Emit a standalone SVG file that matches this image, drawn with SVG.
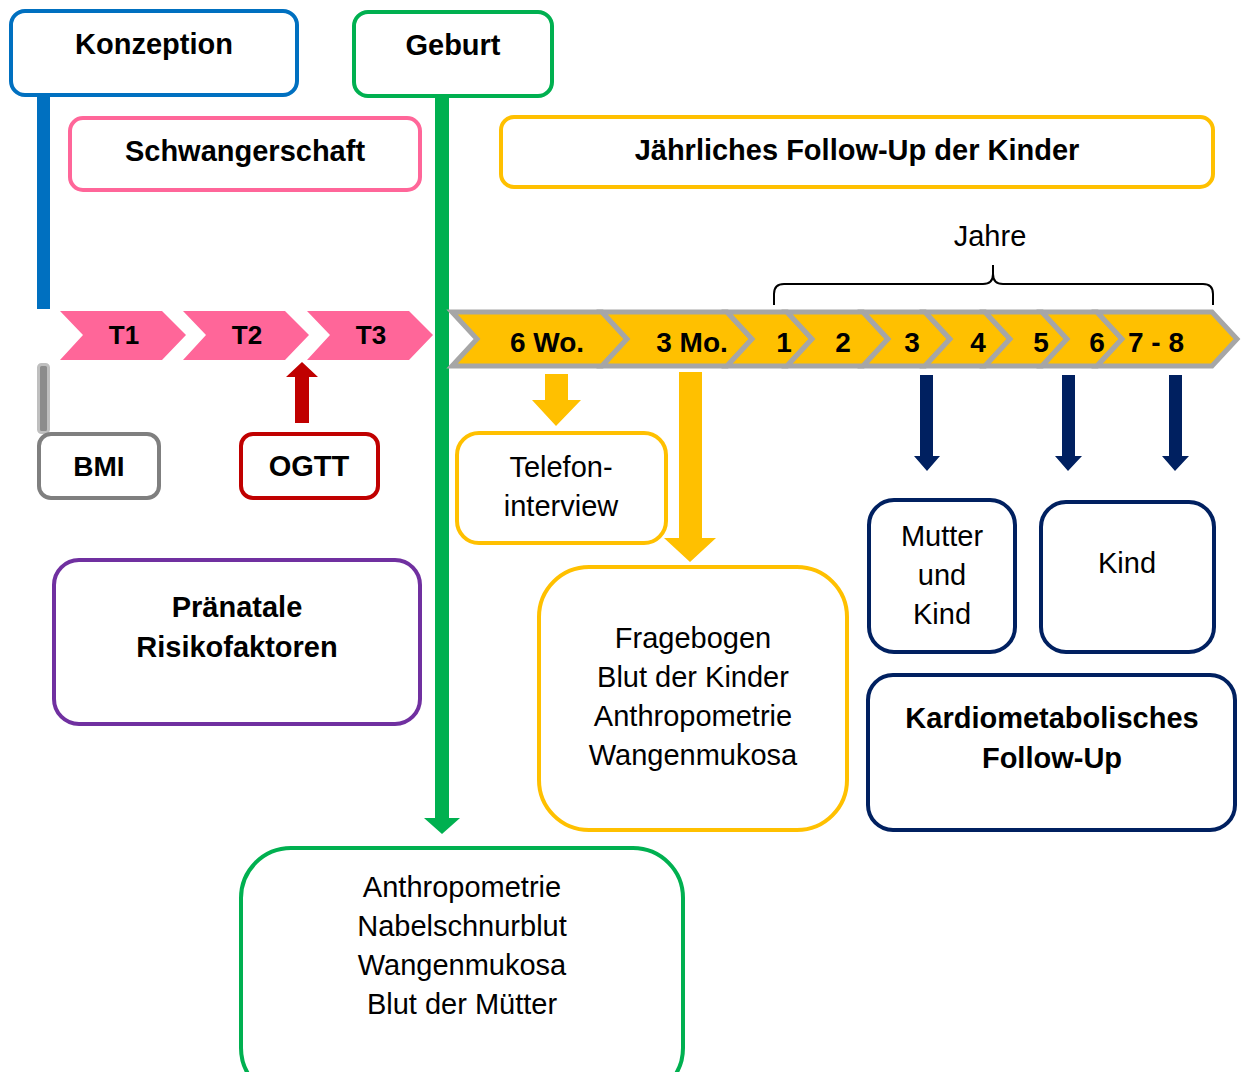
<svg xmlns="http://www.w3.org/2000/svg" width="1243" height="1072" viewBox="0 0 1243 1072">
<style>
text{font-family:"Liberation Sans",Arial,sans-serif;font-size:29px;fill:#000;text-anchor:middle}
.b{font-weight:bold}
.box{fill:#fff;stroke-width:4}
.pink{fill:#FF6699}
.yel{fill:#FFC000;stroke:#A6A6A6;stroke-width:5;stroke-linejoin:miter}
</style>
<rect width="1243" height="1072" fill="#fff"/>
<g id="connectors">
  <rect x="37" y="96" width="13" height="213" fill="#0070C0"/>
  <rect x="38.5" y="364.5" width="10" height="68" rx="3" fill="#8C8C8C" stroke="#BFBFBF" stroke-width="3"/>
  <path d="M435,97 H449 V818 H460 L442,834 L424,818 H435 Z" fill="#00B050"/>
  <path d="M295,423 V377 H286 L302,362 L318,377 H309 V423 Z" fill="#C00000"/>
  <path d="M545,374 H568 V400 H581 L556,426 L532,400 H545 Z" fill="#FFC000"/>
  <path d="M679,372 H702 V538 H716 L690,562 L664,538 H679 Z" fill="#FFC000"/>
  <path d="M920,375 H933 V456 H940 L927,471 L914,456 H920 Z" fill="#002060"/>
  <path d="M1062,375 H1075 V456 H1082 L1068,471 L1055,456 H1062 Z" fill="#002060"/>
  <path d="M1169,375 H1182 V456 H1189 L1175,471 L1162,456 H1169 Z" fill="#002060"/>
  <path d="M774,305 V294 Q774,284 784,284 H983 Q993,284 993,274 V265 V274 Q993,284 1003,284 H1203 Q1213,284 1213,294 V305" fill="none" stroke="#000" stroke-width="2"/>
</g>
<g id="n-konzeption"><rect class="box" x="11" y="11" width="286" height="84" rx="14" stroke="#0070C0"/><text class="b" x="154" y="54">Konzeption</text></g>
<g id="n-geburt"><rect class="box" x="354" y="12" width="198" height="84" rx="14" stroke="#00B050"/><text class="b" x="453" y="55">Geburt</text></g>
<g id="n-schwangerschaft"><rect class="box" x="70" y="118" width="350" height="72" rx="13" stroke="#FF6699"/><text class="b" x="245" y="161">Schwangerschaft</text></g>
<g id="n-follow"><rect class="box" x="501" y="117" width="712" height="70" rx="13" stroke="#FFC000"/><text class="b" x="857" y="160">Jährliches Follow-Up der Kinder</text></g>
<g id="n-trimester">
  <path class="pink" d="M60,311 H162 L186,335 L162,360 H60 L83,335 Z"/>
  <path class="pink" d="M183,311 H285 L309,335 L285,360 H183 L206,335 Z"/>
  <path class="pink" d="M307,311 H409 L433,335 L409,360 H307 L330,335 Z"/>
  <text class="b" x="124" y="344" style="font-size:26px">T1</text>
  <text class="b" x="247" y="344" style="font-size:26px">T2</text>
  <text class="b" x="371" y="344" style="font-size:26px">T3</text>
</g>
<g id="n-timeline">
  <path class="yel" d="M452,312 H602 L627,339 L602,366 H452 L477,339 Z"/>
  <path class="yel" d="M602,312 H727 L752,339 L727,366 H602 L627,339 Z"/>
  <path class="yel" d="M727,312 H787 L812,339 L787,366 H727 L752,339 Z"/>
  <path class="yel" d="M787,312 H863 L888,339 L863,366 H787 L812,339 Z"/>
  <path class="yel" d="M863,312 H925 L950,339 L925,366 H863 L888,339 Z"/>
  <path class="yel" d="M925,312 H985 L1010,339 L985,366 H925 L950,339 Z"/>
  <path class="yel" d="M985,312 H1042 L1067,339 L1042,366 H985 L1010,339 Z"/>
  <path class="yel" d="M1042,312 H1097 L1122,339 L1097,366 H1042 L1067,339 Z"/>
  <path class="yel" d="M1097,312 H1212 L1237,339 L1212,366 H1097 L1122,339 Z"/>
  <text class="b" x="547" y="352" style="font-size:28px">6 Wo.</text>
  <text class="b" x="692" y="352" style="font-size:28px">3 Mo.</text>
  <text class="b" x="784" y="352" style="font-size:28px">1</text>
  <text class="b" x="843" y="352" style="font-size:28px">2</text>
  <text class="b" x="912" y="352" style="font-size:28px">3</text>
  <text class="b" x="978" y="352" style="font-size:28px">4</text>
  <text class="b" x="1041" y="352" style="font-size:28px">5</text>
  <text class="b" x="1097" y="352" style="font-size:28px">6</text>
  <text class="b" x="1156" y="352" style="font-size:28px">7 - 8</text>
</g>
<g id="n-jahre"><text x="990" y="246">Jahre</text></g>
<g id="n-bmi"><rect class="box" x="39" y="434" width="120" height="64" rx="12" stroke="#7F7F7F"/><text class="b" x="99" y="476" style="font-size:28px">BMI</text></g>
<g id="n-ogtt"><rect class="box" x="241" y="434" width="137" height="64" rx="12" stroke="#C00000"/><text class="b" x="309" y="476">OGTT</text></g>
<g id="n-telefon"><rect class="box" x="457" y="433" width="209" height="110" rx="22" stroke="#FFC000"/><text x="561" y="477">Telefon-</text><text x="561" y="516">interview</text></g>
<g id="n-fragebogen"><rect class="box" x="539" y="567" width="308" height="263" rx="50" stroke="#FFC000"/><text x="693" y="648">Fragebogen</text><text x="693" y="687">Blut der Kinder</text><text x="693" y="726">Anthropometrie</text><text x="693" y="765">Wangenmukosa</text></g>
<g id="n-mutter"><rect class="box" x="869" y="500" width="146" height="152" rx="25" stroke="#002060"/><text x="942" y="546">Mutter</text><text x="942" y="585">und</text><text x="942" y="624">Kind</text></g>
<g id="n-kind"><rect class="box" x="1041" y="502" width="173" height="150" rx="25" stroke="#002060"/><text x="1127" y="573">Kind</text></g>
<g id="n-kardio"><rect class="box" x="868" y="675" width="367" height="155" rx="25" stroke="#002060"/><text class="b" x="1052" y="728">Kardiometabolisches</text><text class="b" x="1052" y="768">Follow-Up</text></g>
<g id="n-praenatal"><rect class="box" x="54" y="560" width="366" height="164" rx="25" stroke="#7030A0"/><text class="b" x="237" y="617">Pränatale</text><text class="b" x="237" y="657">Risikofaktoren</text></g>
<g id="n-geburt-data"><rect class="box" x="241" y="848" width="442" height="250" rx="50" stroke="#00B050"/><text x="462" y="897">Anthropometrie</text><text x="462" y="936">Nabelschnurblut</text><text x="462" y="975">Wangenmukosa</text><text x="462" y="1014">Blut der Mütter</text></g>
</svg>
